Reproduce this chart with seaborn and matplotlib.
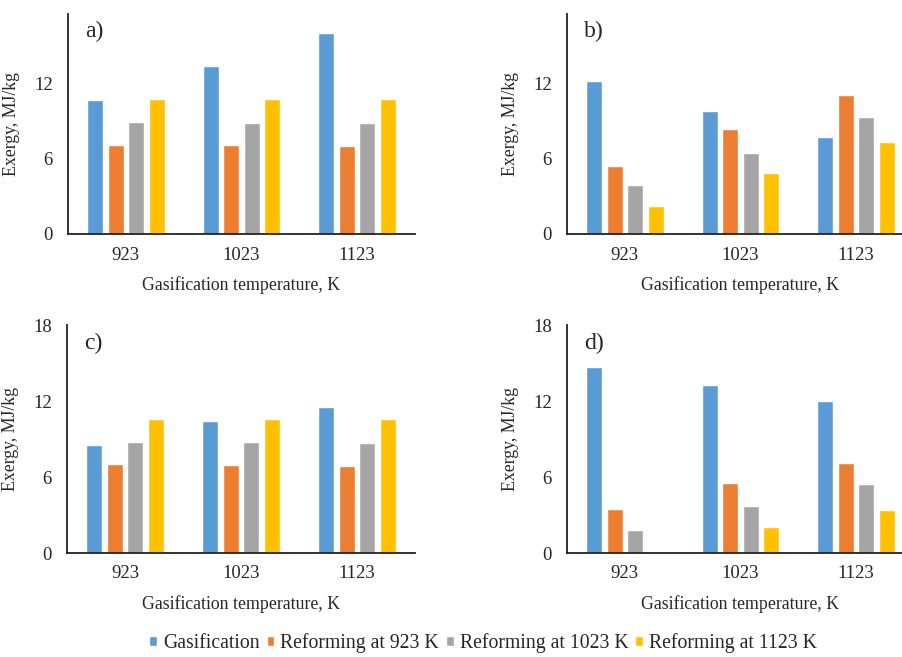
import pandas as pd
import matplotlib.pyplot as plt
import seaborn as sns
from matplotlib.patches import Patch

temps = ["923", "1023", "1123"]
series = ["Gasification", "Reforming at 923 K", "Reforming at 1023 K", "Reforming at 1123 K"]
colors = ["#5B9BD5", "#ED7D31", "#A5A5A5", "#FFC000"]

# values per panel: one list per series, in temps order
a_gas = [10.7, 13.4, 16.05]
a_r923 = [7.1, 7.1, 7.05]
a_r1023 = [8.9, 8.85, 8.85]
a_r1123 = [10.8, 10.8, 10.75]

b_gas = [12.2, 9.8, 7.75]
b_r923 = [5.45, 8.35, 11.05]
b_r1023 = [3.9, 6.5, 9.35]
b_r1123 = [2.2, 4.85, 7.3]

c_gas = [8.5, 10.45, 11.55]
c_r923 = [7.0, 6.95, 6.85]
c_r1023 = [8.75, 8.75, 8.7]
c_r1123 = [10.6, 10.6, 10.55]

d_gas = [14.7, 13.3, 12.0]
d_r923 = [3.45, 5.5, 7.1]
d_r1023 = [1.8, 3.7, 5.45]
d_r1123 = [0.08, 2.05, 3.4]

panels = {
  "a)": [a_gas, a_r923, a_r1023, a_r1123],
  "b)": [b_gas, b_r923, b_r1023, b_r1123],
  "c)": [c_gas, c_r923, c_r1023, c_r1123],
  "d)": [d_gas, d_r923, d_r1023, d_r1123],
}

def to_long(vals):
  rows = []
  for s, v in zip(series, vals):
    for t, y in zip(temps, v):
      rows.append({"T": t, "Series": s, "Exergy": y})
  return pd.DataFrame(rows)

sns.set_style("white")
plt.rcParams["font.family"] = ["Liberation Serif", "DejaVu Serif"]

W, H = 903, 657
fig = plt.figure(figsize=(W / 100, H / 100), dpi=100)

# axes boxes in pixels: left, top, right, bottom
boxes = {
  "a)": (68, 14, 415, 234),
  "b)": (567, 14, 914, 234),
  "c)": (67, 325, 415, 553),
  "d)": (567, 325, 914, 553),
}
ylims = {"a)": 17.55, "b)": 17.55, "c)": 18, "d)": 18}
yticks = {"a)": [0, 6, 12], "b)": [0, 6, 12], "c)": [0, 6, 12, 18], "d)": [0, 6, 12, 18]}
palette = dict(zip(series, colors))

for name, vals in panels.items():
  l, t, r, b = boxes[name]
  ax = fig.add_axes([l / W, 1 - b / H, (r - l) / W, (b - t) / H])
  df = to_long(vals)
  sns.barplot(data=df, x="T", y="Exergy", hue="Series", palette=palette,
              width=0.71, gap=0.22, legend=False, ax=ax, saturation=1)
  ax.set_xlim(-0.5, 2.5)
  ax.set_ylim(0, ylims[name])
  ax.set_yticks(yticks[name])
  ax.set_xlabel("Gasification temperature, K", fontsize=12.8, labelpad=9)
  ax.set_ylabel("Exergy, MJ/kg", fontsize=12.8)
  ax.yaxis.set_label_coords(-0.138, 0.5)
  ax.tick_params(axis="x", length=0, labelsize=13.5, pad=9)
  ax.tick_params(axis="y", length=0, labelsize=13.5, pad=11)
  for sp in ["top", "right"]:
    ax.spines[sp].set_visible(False)
  for sp in ["left", "bottom"]:
    ax.spines[sp].set_color("#222222")
    ax.spines[sp].set_linewidth(1.3)
  ax.text(0.05, 0.92, name, transform=ax.transAxes, fontsize=17, va="center", ha="left")

handles = [Patch(facecolor=c, label=s) for s, c in zip(series, colors)]
fig.legend(handles=handles, loc="center", bbox_to_anchor=(0.535, 1 - 643 / H), ncol=4,
           frameon=False, fontsize=14.2, handlelength=0.4, handleheight=0.4,
           handletextpad=0.3, columnspacing=0.35)

plt.savefig("out.png", dpi=100)
plt.close()
